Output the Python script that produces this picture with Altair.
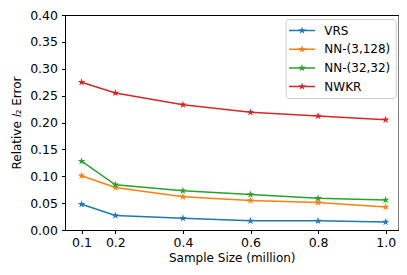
import altair as alt
import pandas as pd
import math

sizes = [0.1, 0.2, 0.4, 0.6, 0.8, 1.0]
series_names = ["VRS", "NN-(3,128)", "NN-(32,32)", "NWKR"]
vrs = [0.048, 0.027, 0.022, 0.017, 0.017, 0.015]
nn_3_128 = [0.101, 0.079, 0.062, 0.055, 0.051, 0.043]
nn_32_32 = [0.128, 0.084, 0.073, 0.066, 0.059, 0.056]
nwkr = [0.275, 0.255, 0.233, 0.219, 0.212, 0.205]
colors = ["#1f77b4", "#ff7f0e", "#2ca02c", "#d62728"]
x_ticks = [0.1, 0.2, 0.4, 0.6, 0.8, 1.0]
y_ticks = [0.0, 0.05, 0.10, 0.15, 0.20, 0.25, 0.30, 0.35, 0.40]

rows = []
for name, vals in zip(series_names, [vrs, nn_3_128, nn_32_32, nwkr]):
    for s, v in zip(sizes, vals):
        rows.append({"size": s, "err": v, "series": name})
df = pd.DataFrame(rows)


def star_path(cx, cy, R, ratio=0.38):
    pts = []
    for k in range(10):
        ang = math.radians(-90 + 36 * k)
        r = R if k % 2 == 0 else R * ratio
        pts.append((cx + r * math.cos(ang), cy + r * math.sin(ang)))
    return "M" + "L".join(f"{x:.3f},{y:.3f}" for x, y in pts) + "Z"


marker_path = star_path(0, 0, 1.0)
shift = 0.74
legend_path = (
    f"M{shift-2:.3f},-0.115L{shift+2:.3f},-0.115L{shift+2:.3f},0.115L{shift-2:.3f},0.115Z"
    + star_path(shift, 0, 0.615)
)

legend = alt.Legend(
    title=None,
    orient="none",
    legendX=220.7,
    legendY=4,
    symbolType=legend_path,
    symbolSize=169,
    symbolStrokeWidth=0,
    symbolOpacity=1,
    labelFontSize=12,
    labelFont="DejaVu Sans",
    labelColor="black",
    labelOffset=20.6,
    rowPadding=5.7,
    padding=5,
    fillColor="white",
    strokeColor="#cccccc",
    cornerRadius=3,
)

color_scale = alt.Scale(domain=series_names, range=colors)
x_enc = alt.X(
    "size:Q",
    scale=alt.Scale(domain=[0.051, 1.038], nice=False, zero=False),
    axis=alt.Axis(values=x_ticks, format=".1f", title="Sample Size (million)"),
)
y_enc = alt.Y(
    "err:Q",
    scale=alt.Scale(domain=[0, 0.4], nice=False),
    axis=alt.Axis(values=y_ticks, format=".2f", title="Relative 𝑙₂ Error"),
)

base = alt.Chart(df)
lines = base.mark_line(strokeWidth=1.5).encode(
    x=x_enc,
    y=y_enc,
    color=alt.Color("series:N", scale=color_scale, sort=series_names, legend=legend),
    order=alt.Order("size:Q"),
)
points = base.mark_point(shape=marker_path, filled=True, size=64, opacity=1).encode(
    x=x_enc,
    y=y_enc,
    color=alt.Color("series:N", scale=color_scale, sort=series_names, legend=legend),
)

chart = (
    alt.layer(lines, points)
    .properties(
        width=333.5,
        height=215,
        autosize=alt.AutoSizeParams(type="none"),
        padding={"left": 57, "top": 7, "right": 0.5, "bottom": 36},
    )
    .configure_view(stroke="black", strokeWidth=1)
    .configure_axis(
        grid=False,
        domainColor="black",
        tickColor="black",
        tickSize=3.5,
        labelColor="black",
        labelFont="DejaVu Sans",
        labelFontSize=12.5,
        titleFont="DejaVu Sans",
        titleFontSize=12,
        titleFontWeight="normal",
        titleColor="black",
    )
    .configure_axisX(labelPadding=3, titlePadding=3)
    .configure_axisY(labelPadding=4, titlePadding=6)
)

chart.save("out.html", embed_options={"renderer": "svg", "actions": False})
